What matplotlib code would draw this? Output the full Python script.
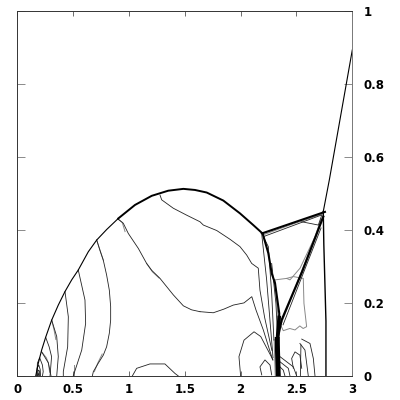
import matplotlib
matplotlib.use("Agg")
import matplotlib.pyplot as plt

# main shocks
bow_x = [0.165, 0.188, 0.218, 0.254, 0.308, 0.367, 0.427, 0.487, 0.546, 0.636, 0.711, 0.801, 0.904,
         1.054, 1.204, 1.352, 1.487, 1.591, 1.696, 1.845, 1.994, 2.113, 2.189]
bow_y = [0.0, 0.035, 0.071, 0.106, 0.153, 0.194, 0.231, 0.263, 0.29, 0.34, 0.372, 0.401, 0.431,
         0.468, 0.493, 0.507, 0.512, 0.509, 0.502, 0.48, 0.445, 0.413, 0.392]

mach_x = [2.19, 2.755]
mach_y = [0.39, 0.449]

stem_x = [2.197, 2.248, 2.278, 2.308, 2.346, 2.34]
stem_y = [0.39, 0.336, 0.281, 0.254, 0.171, 0.13]

wedge_x = [2.345, 2.335, 2.328]
wedge_y = [0.16, 0.125, 0.09]

band_x = [2.328, 2.33, 2.337]
band_y = [0.1, 0.07, 0.0]

reflected_x = [2.74, 2.55, 2.367, 2.33]
reflected_y = [0.436, 0.285, 0.153, 0.1]

vert_x = [2.74, 2.745, 2.755, 2.764, 2.764]
vert_y = [0.45, 0.36, 0.25, 0.15, 0.0]

oblique_x = [2.74, 2.794, 3.0]
oblique_y = [0.45, 0.536, 0.892]

# thin contours, black
thin_black = [
    ([0.427, 0.457, 0.451, 0.412, 0.412], [0.231, 0.162, 0.08, 0.012, 0.0]),
    ([0.546, 0.606, 0.612, 0.577, 0.501], [0.29, 0.208, 0.144, 0.071, 0.0]),
    ([0.711, 0.74, 0.77, 0.8, 0.824, 0.836, 0.836, 0.824, 0.8, 0.77, 0.725, 0.681, 0.672],
     [0.372, 0.344, 0.317, 0.276, 0.235, 0.19, 0.153, 0.117, 0.08, 0.057, 0.035, 0.012, 0.0]),
    ([0.904, 0.949, 0.994, 1.084, 1.158, 1.204, 1.278, 1.397, 1.487, 1.561, 1.636],
     [0.429, 0.418, 0.39, 0.349, 0.308, 0.289, 0.267, 0.222, 0.192, 0.181, 0.176]),
    ([1.636, 1.755, 1.85, 1.934, 2.03, 2.1, 2.137, 2.203, 2.287],
     [0.176, 0.173, 0.183, 0.194, 0.2, 0.217, 0.181, 0.126, 0.044]),
    ([1.278, 1.293, 1.397, 1.517, 1.636, 1.666, 1.786, 1.905, 1.994, 2.054, 2.099, 2.158, 2.173, 2.215, 2.28],
     [0.495, 0.482, 0.459, 0.44, 0.422, 0.413, 0.398, 0.374, 0.354, 0.331, 0.308, 0.295, 0.235, 0.16, 0.07]),
    ([0.308, 0.353, 0.367, 0.353], [0.153, 0.108, 0.053, 0.0]),
    ([0.254, 0.285, 0.307, 0.293], [0.106, 0.08, 0.053, 0.0]),
    ([0.218, 0.278, 0.302], [0.066, 0.036, 0.0]),
    ([0.176, 0.18, 0.2, 0.225, 0.232, 0.225], [0.0, 0.035, 0.05, 0.03, 0.012, 0.0]),
    ([0.175, 0.178, 0.192, 0.205, 0.208], [0.0, 0.022, 0.03, 0.018, 0.0]),
    ([0.18, 0.188, 0.198, 0.2], [0.0, 0.016, 0.014, 0.0]),
    ([0.183, 0.188, 0.194], [0.0, 0.008, 0.0]),
    ([1.03, 1.069, 1.188, 1.322, 1.412, 1.442], [0.0, 0.021, 0.033, 0.033, 0.007, 0.0]),
    ([2.0, 1.985, 2.03, 2.12, 2.18, 2.29], [0.0, 0.053, 0.098, 0.121, 0.108, 0.044]),
    ([2.189, 2.173, 2.218, 2.263, 2.278], [0.003, 0.025, 0.044, 0.03, 0.003]),
    ([2.547, 2.621, 2.651, 2.666], [0.101, 0.089, 0.048, 0.0]),
    ([2.531, 2.576, 2.606], [0.089, 0.071, 0.0]),
    ([2.54, 2.535], [0.085, 0.0]),
    ([2.472, 2.457, 2.487, 2.531, 2.547], [0.021, 0.048, 0.066, 0.057, 0.021]),
    ([2.352, 2.472, 2.502], [0.053, 0.025, 0.0]),
    ([2.352, 2.427, 2.442], [0.039, 0.021, 0.0]),
    ([2.352, 2.382, 2.397], [0.025, 0.016, 0.0]),
    # fan under the triple point
    ([2.19, 2.233, 2.29], [0.385, 0.263, 0.05]),
    ([2.205, 2.248, 2.278, 2.298], [0.38, 0.354, 0.226, 0.098]),
    ([2.278, 2.316, 2.328], [0.308, 0.199, 0.126]),
    ([2.21, 2.72], [0.382, 0.44]),
    ([2.38, 2.72], [0.14, 0.405]),
    ([2.547, 2.696, 2.726], [0.422, 0.413, 0.44]),
]

# same but the grey stretches
thin_grey = [
    ([0.218, 0.26, 0.278, 0.29], [0.066, 0.05, 0.036, 0.01]),
    ([0.308, 0.33, 0.345], [0.153, 0.125, 0.1]),
    ([0.711, 0.745, 0.77], [0.372, 0.34, 0.317]),
    ([0.904, 0.94, 0.965], [0.429, 0.42, 0.395]),
    ([1.158, 1.21, 1.27], [0.308, 0.285, 0.268]),
    ([0.76, 0.72, 0.69], [0.06, 0.035, 0.012]),
    ([0.507, 0.507], [0.03, 0.0]),
    ([2.308, 2.412, 2.442, 2.532, 2.666, 2.72], [0.263, 0.267, 0.263, 0.295, 0.381, 0.43]),
    ([2.412, 2.472, 2.561, 2.567, 2.591, 2.56, 2.53, 2.487, 2.44, 2.382, 2.337, 2.307],
     [0.267, 0.272, 0.267, 0.199, 0.135, 0.13, 0.137, 0.126, 0.13, 0.124, 0.153, 0.263]),
    ([2.2, 2.45, 2.73], [0.386, 0.414, 0.443]),
    ([2.36, 2.55, 2.72], [0.14, 0.29, 0.42]),
    ([2.3, 2.31], [0.1, 0.0]),
]

xticks = [0, 0.5, 1, 1.5, 2, 2.5, 3]
xlabels = ["0", "0.5", "1", "1.5", "2", "2.5", "3"]
yticks = [0, 0.2, 0.4, 0.6, 0.8, 1]
ylabels = ["0", "0.2", "0.4", "0.6", "0.8", "1"]

fig = plt.figure(figsize=(4, 4), dpi=100)
ax = fig.add_axes([17.3 / 400, 24 / 400, 335 / 400, 365.5 / 400])

for xs, ys in thin_grey:
    ax.plot(xs, ys, color="#888888", lw=0.7)
for xs, ys in thin_black:
    ax.plot(xs, ys, color="#222222", lw=0.6)

# bow shock gets thicker going right
ax.plot(bow_x[:13], bow_y[:13], color="black", lw=0.8)
ax.plot(bow_x[12:], bow_y[12:], color="black", lw=1.4)
ax.plot(mach_x, mach_y, color="black", lw=1.5)
ax.plot(stem_x, stem_y, color="black", lw=1.5)
ax.plot(wedge_x, wedge_y, color="black", lw=2.6)
ax.plot(band_x, band_y, color="black", lw=3.6)
ax.plot(reflected_x, reflected_y, color="black", lw=1.6)
ax.plot(vert_x, vert_y, color="black", lw=1.0)
ax.plot(oblique_x, oblique_y, color="black", lw=0.8)

ax.set_xlim(0, 3)
ax.set_ylim(0, 1)
ax.set_xticks(xticks)
ax.set_xticklabels(xlabels)
ax.set_yticks(yticks)
ax.set_yticklabels(ylabels)
ax.yaxis.tick_right()
ax.tick_params(axis="x", top=True, bottom=True, direction="in", length=3.5, width=0.6, color="#555555", pad=5)
ax.tick_params(axis="y", left=True, right=True, direction="in", length=5.5, width=0.6, color="#777777", pad=8)
for lab in ax.get_xticklabels() + ax.get_yticklabels():
    lab.set_fontsize(8.5)
    lab.set_fontweight("bold")
    lab.set_family("DejaVu Sans")
for s in ax.spines.values():
    s.set_linewidth(0.7)
    s.set_color("#333333")
ax.spines["right"].set_color("#777777")

fig.savefig("out.png", dpi=100)
